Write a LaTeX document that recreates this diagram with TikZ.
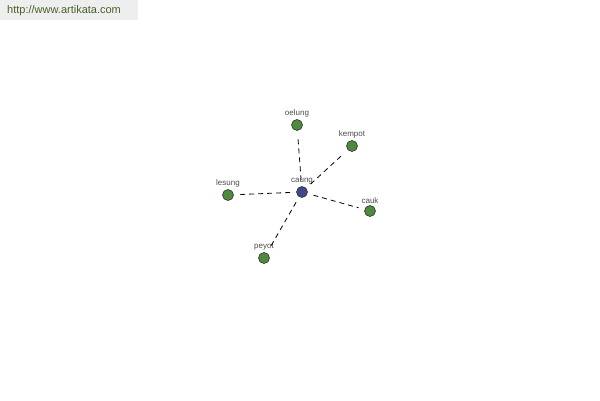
\documentclass[tikz,border=0pt]{standalone}
\usepackage{fontspec}
\setmainfont{Liberation Sans}
\usetikzlibrary{positioning}
\definecolor{katagreen}{RGB}{78,138,62}
\definecolor{katablue}{RGB}{62,72,140}
\definecolor{urlgreen}{RGB}{72,98,40}
\definecolor{boxgray}{RGB}{238,238,238}

\begin{document}
\begin{tikzpicture}[x=1pt,y=-1pt,
    kata/.style={circle,draw=black!80,fill=katagreen,minimum size=11pt,inner sep=0pt,line width=0.6pt,
        label={[font=\fontsize{8}{9}\selectfont,text=black!70,label distance=-1.5pt]above:#1}},
    pusat/.style={kata=#1,fill=katablue},
    garis/.style={dash pattern=on 5pt off 4pt,line width=0.8pt,black,shorten <=6pt,shorten >=6pt}]
    % Latar
    \useasboundingbox (0,0) rectangle (600,400);
    \fill[white] (0,0) rectangle (600,400);
    \fill[boxgray] (0,0) rectangle (138,20);
    \node[anchor=west,font=\fontsize{11}{12}\selectfont,text=urlgreen,inner sep=0pt] (url) at (7,11) {http://www.artikata.com};

    % Kata pusat
    \node[pusat=caung] (caung) at (302,192) {};

    % Kata terkait
    \node[kata=oelung] (oelung) at (297,125) {};
    \node[kata=kempot] (kempot) at (352,146) {};
    \node[kata=lesung] (lesung) at (228,195) {};
    \node[kata=cauk] (cauk) at (370,211) {};
    \node[kata=peyot] (peyot) at (264,258) {};

    % Garis
    \draw[garis] (caung) -- (oelung);
    \draw[garis] (caung) -- (kempot);
    \draw[garis] (caung) -- (lesung);
    \draw[garis] (caung) -- (cauk);
    \draw[garis] (caung) -- (peyot);
\end{tikzpicture}
\end{document}
